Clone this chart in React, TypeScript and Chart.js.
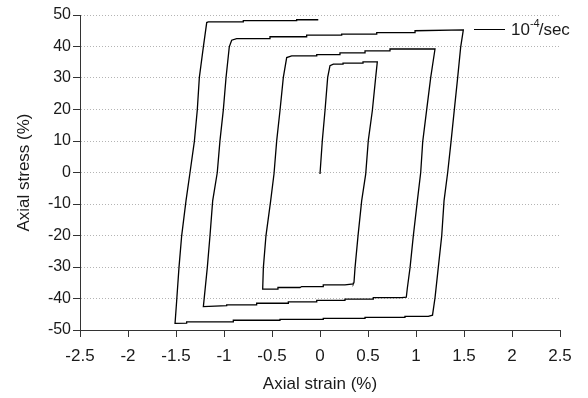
import React, { useEffect, useRef } from "react";
import { Chart, registerables } from "chart.js";

Chart.register(...registerables);

// Hysteresis path (axial strain %, axial stress %)
const strain = [
  0, 0.024, 0.052, 0.08, 0.104, 0.139, 0.24, 0.24, 0.448, 0.448, 0.597,
  0.58, 0.545, 0.503, 0.476, 0.434, 0.396, 0.365, 0.354, 0.347,
  0.26, 0.034, 0.034, -0.191, -0.208, -0.438, -0.438, -0.597,
  -0.59, -0.563, -0.514, -0.479, -0.451, -0.417, -0.382, -0.347, -0.295,
  -0.034, -0.034, 0.208, 0.208, 0.469, 0.469, 0.729, 0.729, 1.198,
  1.153, 1.111, 1.07, 1.049, 1.014, 0.972, 0.938, 0.909, 0.899,
  0.851, 0.555, 0.555, 0.26, 0.26, -0.034, -0.034, -0.33, -0.33, -0.66, -0.66, -0.972, -0.972, -1.215,
  -1.174, -1.146, -1.118, -1.07, -1.042, -1.007, -0.979, -0.945, -0.92, -0.868,
  -0.521, -0.521, -0.139, -0.139, 0.226, 0.226, 0.591, 0.591, 0.99, 0.99, 1.493,
  1.465, 1.434, 1.399, 1.365, 1.33, 1.292, 1.268, 1.232, 1.198, 1.172,
  1.128, 0.885, 0.885, 0.469, 0.469, 0.034, 0.034, -0.417, -0.417, -0.903, -0.903, -1.389, -1.389, -1.51,
  -1.493, -1.469, -1.441, -1.396, -1.354, -1.309, -1.278, -1.257, -1.215, -1.18,
  -1.164, -0.799, -0.799, -0.243, -0.243, -0.018,
];
const stress = [
  -0.5, 10.1, 19.6, 30.2, 33.9, 34.4, 34.4, 34.7, 34.7, 35.1, 35.1,
  30.2, 19.6, 10.1, -0.5, -9.0, -20.1, -30.2, -34.9, -35.4,
  -35.7, -35.7, -36.2, -36.2, -36.5, -36.5, -37.0, -37.0,
  -30.2, -20.1, -9.0, -0.4, 10.1, 19.6, 30.2, 36.5, 37.0,
  37.0, 37.4, 37.4, 38.0, 38.0, 38.6, 38.6, 39.2, 39.2,
  30.1, 19.9, 9.8, 0, -9.0, -20.1, -30.2, -36.9, -39.6,
  -39.7, -39.7, -40.2, -40.2, -40.6, -40.6, -41.1, -41.1, -41.5, -41.5, -42.0, -42.0, -42.3, -42.6,
  -30.2, -20.1, -9.0, 0, 10.1, 19.9, 30.1, 39.9, 42.0, 42.5,
  42.5, 43.1, 43.1, 43.6, 43.6, 43.9, 43.9, 44.4, 44.4, 45.0, 45.3,
  39.7, 30.1, 19.9, 9.8, 0, -9.0, -20.1, -30.2, -39.8, -45.3,
  -45.7, -45.7, -46.0, -46.0, -46.3, -46.3, -46.6, -46.6, -46.9, -46.9, -47.4, -47.4, -47.8, -47.9,
  -40.7, -30.2, -20.1, -9.0, 0, 9.8, 19.9, 30.1, 39.9, 47.6,
  47.8, 47.8, 48.2, 48.2, 48.5, 48.5,
];

const xTicks = [-2.5, -2, -1.5, -1, -0.5, 0, 0.5, 1, 1.5, 2, 2.5];
const yTicks = [-50, -40, -30, -20, -10, 0, 10, 20, 30, 40, 50];
const xTitle = "Axial strain (%)";
const yTitle = "Axial stress (%)";
const legendBase = "10";
const legendExp = "-4";
const legendUnit = "/sec";

const FONT = "'Liberation Sans', Arial, Helvetica, sans-serif";
const TEXT = "#1a1a1a";
const AXIS = "#333333";

const legendPlugin = {
  id: "rateLegend",
  afterDraw(chart: any) {
    const ctx = chart.ctx as CanvasRenderingContext2D;
    ctx.save();
    ctx.strokeStyle = "#000";
    ctx.lineWidth = 1;
    ctx.beginPath();
    ctx.moveTo(474, 29.5);
    ctx.lineTo(505, 29.5);
    ctx.stroke();
    ctx.fillStyle = TEXT;
    ctx.textBaseline = "alphabetic";
    ctx.textAlign = "left";
    ctx.font = `17px ${FONT}`;
    let x = 511;
    ctx.fillText(legendBase, x, 35);
    x += ctx.measureText(legendBase).width;
    ctx.font = `11px ${FONT}`;
    ctx.fillText(legendExp, x, 27);
    x += ctx.measureText(legendExp).width - 1;
    ctx.font = `17px ${FONT}`;
    ctx.fillText(legendUnit, x, 35);
    ctx.restore();
  },
};

export default function App() {
  const ref = useRef<HTMLCanvasElement | null>(null);

  useEffect(() => {
    if (!ref.current) return;
    const points = strain.map((s, i) => ({ x: s, y: stress[i] }));
    const chart = new Chart(ref.current, {
      type: "scatter",
      data: {
        datasets: [
          {
            label: legendBase + legendExp + legendUnit,
            data: points,
            showLine: true,
            borderColor: "#000",
            borderWidth: 1.3,
            pointRadius: 0,
            tension: 0,
            fill: false,
          },
        ],
      },
      options: {
        responsive: false,
        animation: false,
        devicePixelRatio: 1,
        layout: { padding: { left: 0, top: 15, right: 28, bottom: 0 } },
        plugins: {
          legend: { display: false },
          tooltip: { enabled: false },
        },
        scales: {
          x: {
            type: "linear",
            min: -2.5,
            max: 2.5,
            afterFit(scale: any) {
              scale.height = 68;
            },
            afterBuildTicks(scale: any) {
              scale.ticks = xTicks.map((v) => ({ value: v }));
            },
            ticks: {
              font: { family: FONT, size: 17 },
              color: TEXT,
              padding: 9,
              maxRotation: 0,
              autoSkip: false,
              callback: (v: any) => String(v),
            },
            grid: {
              drawOnChartArea: false,
              tickLength: 7,
              tickColor: AXIS,
              tickWidth: 1,
            },
            border: { color: AXIS, width: 1 },
            title: {
              display: true,
              text: xTitle,
              font: { family: FONT, size: 17 },
              color: TEXT,
              padding: { top: 0, bottom: 3 },
            },
          },
          y: {
            type: "linear",
            min: -50,
            max: 50,
            afterFit(scale: any) {
              scale.width = 80;
            },
            afterBuildTicks(scale: any) {
              scale.ticks = yTicks.map((v) => ({ value: v }));
            },
            ticks: {
              font: { family: FONT, size: 16 },
              color: TEXT,
              padding: 2,
              autoSkip: false,
              callback: (v: any) => String(v),
            },
            grid: {
              color: "#b4b4b4",
              lineWidth: 1,
              tickLength: 7,
              tickColor: AXIS,
              tickWidth: 1,
            },
            border: { color: AXIS, width: 1, dash: [1, 2] },
            title: {
              display: true,
              text: yTitle,
              font: { family: FONT, size: 17 },
              color: TEXT,
              padding: { top: 14, bottom: 0 },
            },
          },
        },
      },
      plugins: [legendPlugin],
    });
    return () => chart.destroy();
  }, []);

  return (
    <canvas
      ref={ref}
      width={588}
      height={398}
      style={{ position: "absolute", left: 0, top: 0, width: 588, height: 398, display: "block" }}
    />
  );
}
